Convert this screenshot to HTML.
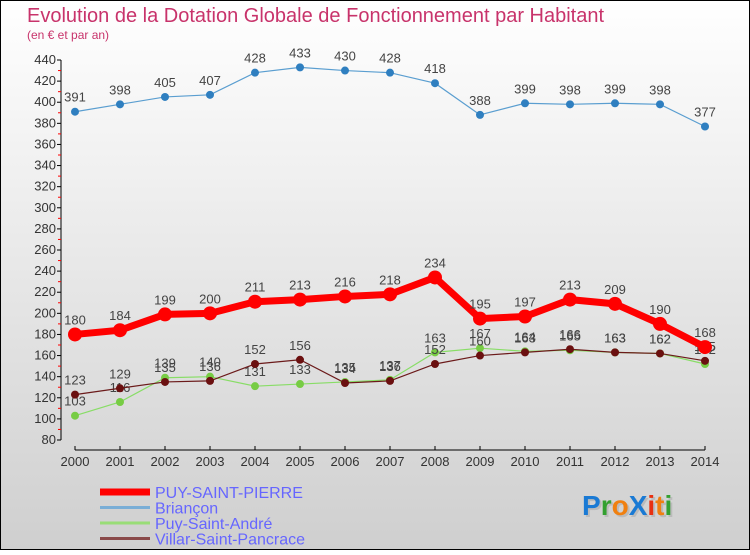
<!DOCTYPE html>
<html><head><meta charset="utf-8"><style>
html,body{margin:0;padding:0}
body{width:750px;height:550px;overflow:hidden;font-family:"Liberation Sans",sans-serif}
</style></head><body>
<svg width="750" height="550" xmlns="http://www.w3.org/2000/svg" font-family="Liberation Sans, sans-serif">
<defs><linearGradient id="bg" x1="0" y1="0" x2="0" y2="1"><stop offset="0" stop-color="#ffffff"/><stop offset="1" stop-color="#cfcfcf"/></linearGradient></defs>
<rect x="0.5" y="0.5" width="749" height="549" fill="url(#bg)" stroke="#000"/>
<text x="27" y="22" font-size="20" fill="#c8336b">Evolution de la Dotation Globale de Fonctionnement par Habitant</text>
<text x="27" y="39" font-size="12" fill="#c8336b">(en € et par an)</text>
<g id="axes"></g>
<g id="series"></g>
<g id="legend"></g>
<g font-size="28" font-weight="bold" font-family="Liberation Sans, sans-serif">
<text x="584" y="517" fill="#999" opacity="0.4">ProXiti</text>
<text x="582" y="515"><tspan fill="#1a7ad4">P</tspan><tspan fill="#33a030">r</tspan><tspan fill="#f08010">o</tspan><tspan fill="#1a7ad4">X</tspan><tspan fill="#e83010">i</tspan><tspan fill="#f08010">t</tspan><tspan fill="#33a030">i</tspan></text>
</g>
</svg>
<script>
const years=[2000,2001,2002,2003,2004,2005,2006,2007,2008,2009,2010,2011,2012,2013,2014];
const puySaintPierre=[180,184,199,200,211,213,216,218,234,195,197,213,209,190,168];
const briancon=[391,398,405,407,428,433,430,428,418,388,399,398,399,398,377];
const puySaintAndre=[103,116,139,140,131,133,135,137,163,167,164,165,163,162,152];
const villar=[123,129,135,136,152,156,134,136,152,160,163,166,163,162,155];
const yTicks=[80,100,120,140,160,180,200,220,240,260,280,300,320,340,360,380,400,420,440];
const NS="http://www.w3.org/2000/svg";
function X(i){return 75+i*(705-75)/(years.length-1);}
function Y(v){return 440-(v-80)*380/360;}
function mk(t,a,p){const e=document.createElementNS(NS,t);for(const k in a)e.setAttribute(k,a[k]);p.appendChild(e);return e;}
const ax=document.getElementById('axes');
const yl=mk('line',{x1:61,y1:Y(440),x2:61,y2:Y(80),stroke:'#000'},ax);


yTicks.forEach((v,i)=>{
 mk('line',{x1:57,y1:Y(v),x2:61,y2:Y(v),stroke:'#000'},ax);
 if(i<yTicks.length-1)mk('line',{x1:58,y1:Y(v+10),x2:61,y2:Y(v+10),stroke:'#f00'},ax);
 const t=mk('text',{x:56,y:Y(v)+4,'font-size':13,fill:'#333','text-anchor':'end'},ax);
 t.textContent=v;
 
 
});
const xl=mk('line',{x1:X(0),y1:450,x2:X(14),y2:450,stroke:'#000'},ax);


years.forEach((y,i)=>{
 mk('line',{x1:X(i),y1:446,x2:X(i),y2:450,stroke:'#000'},ax);
 const t=mk('text',{x:X(i),y:466,'font-size':13,fill:'#333','text-anchor':'middle'},ax);
 t.textContent=y;
 
 
});
const sg=document.getElementById('series');
const series=[
 {name:'brianon',d:briancon,c:'#5a9ed0',fill:'#2f7fc0',w:1.2,r:4},
 {name:'puy-saint-andre',d:puySaintAndre,c:'#88dd66',fill:'#77cc44',w:1.2,r:4},
 {name:'villar-saint-pancrace',d:villar,c:'#6b1a1a',fill:'#6b1010',w:1.2,r:4},
 {name:'puy-saint-pierre',d:puySaintPierre,c:'#ff0000',fill:'#ff0000',w:7,r:7}
];
series.forEach(s=>{
 const g=mk('g',{},sg);
 
 
 mk('polyline',{points:s.d.map((v,i)=>X(i)+','+Y(v)).join(' '),fill:'none',stroke:s.c,'stroke-width':s.w},g);
 s.d.forEach((v,i)=>{
  const p=mk('circle',{cx:X(i),cy:Y(v),r:s.r,fill:s.fill},g);
  
  
  const t=mk('text',{x:X(i),y:Y(v)-10,'font-size':13,fill:'#444','text-anchor':'middle'},g);
  t.textContent=v;
  
  
 });
});
const lg=document.getElementById('legend');
const items=[['PUY-SAINT-PIERRE','#ff0000',7],['Briançon','#7aaed6',3],['Puy-Saint-André','#99dd77',3],['Villar-Saint-Pancrace','#8a4a4a',3]];
items.forEach((it,i)=>{
 const y=492+i*15.5;
 const g=mk('g',{},lg);
 
 
 mk('line',{x1:100,y1:y,x2:150,y2:y,stroke:it[1],'stroke-width':it[2]},g);
 const t=mk('text',{x:155,y:y+6,'font-size':16,fill:'#6666ff'},g);
 t.textContent=it[0];
});
</script>
</body></html>
